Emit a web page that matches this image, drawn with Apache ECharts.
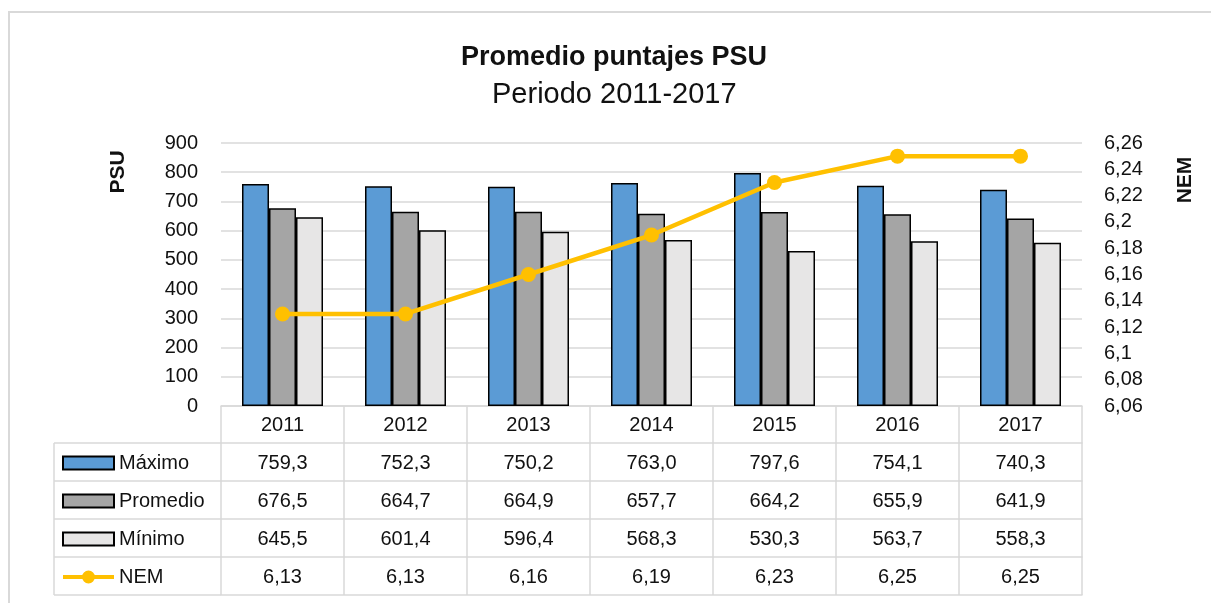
<!DOCTYPE html>
<html>
<head>
<meta charset="utf-8">
<script src="https://cdn.jsdelivr.net/npm/echarts@6/dist/echarts.min.js"></script>
<style>
  html, body { margin: 0; padding: 0; background: #fff; }
  #chart { width: 1211px; height: 603px; }
</style>
</head>
<body>
<div id="chart"></div>
<script>
const years = ['2011', '2012', '2013', '2014', '2015', '2016', '2017'];
const maximo = [759.3, 752.3, 750.2, 763.0, 797.6, 754.1, 740.3];
const promedio = [676.5, 664.7, 664.9, 657.7, 664.2, 655.9, 641.9];
const minimo = [645.5, 601.4, 596.4, 568.3, 530.3, 563.7, 558.3];
const nem = [6.13, 6.13, 6.16, 6.19, 6.23, 6.25, 6.25];

const FONT = 'Liberation Sans, Arial, sans-serif';
const TXT = '#111';
const GRID_C = '#d9d9d9';

// line with a dot, for the NEM legend key
const NEM_ICON = 'path://M0,4.5L19.6,4.5L19.6,8.5L0,8.5Z M31.4,4.5L51,4.5L51,8.5L31.4,8.5Z ' +
  'M19,6.5A6.5,6.5 0 1 1 32,6.5A6.5,6.5 0 1 1 19,6.5Z';

function comma(v, d) {
  return v.toFixed(d).replace('.', ',');
}

// one table row under the chart, drawn as an extra category axis
function rowAxis(offset, values, decimals) {
  return {
    type: 'category',
    data: years,
    position: 'bottom',
    offset: offset,
    axisLine: { show: true, lineStyle: { color: GRID_C, width: 1.5 } },
    axisTick: { show: values !== null, length: 38, interval: 0, lineStyle: { color: GRID_C, width: 1.5 } },
    axisLabel: {
      show: values !== null,
      interval: 0,
      margin: 10,
      fontFamily: FONT,
      fontSize: 20,
      color: TXT,
      formatter: (v, i) => values ? comma(values[i], decimals) : ''
    }
  };
}

const chart = echarts.init(document.getElementById('chart'));

const option = {
  animation: false,
  title: [
    {
      text: 'Promedio puntajes PSU',
      left: 456,
      top: 39,
      textStyle: { fontFamily: FONT, fontSize: 27, fontWeight: 'bold', color: TXT }
    },
    {
      text: 'Periodo 2011-2017',
      left: 487,
      top: 75,
      textStyle: { fontFamily: FONT, fontSize: 29, fontWeight: 'normal', color: TXT }
    }
  ],
  legend: {
    orient: 'vertical',
    left: 57,
    top: 448,
    itemWidth: 51,
    itemHeight: 13,
    itemGap: 18,
    selectedMode: false,
    textStyle: { fontFamily: FONT, fontSize: 20, color: TXT, lineHeight: 20 },
    data: [
      { name: 'Máximo', icon: 'rect' },
      { name: 'Promedio', icon: 'rect' },
      { name: 'Mínimo', icon: 'rect' },
      { name: 'NEM', icon: NEM_ICON, itemStyle: { borderWidth: 0 } }
    ]
  },
  grid: { left: 221, right: 129, top: 143, bottom: 197 },
  xAxis: [
    {
      type: 'category',
      data: years,
      position: 'bottom',
      axisLine: { show: true, lineStyle: { color: GRID_C, width: 1.5 } },
      axisTick: { show: true, length: 37, interval: 0, lineStyle: { color: GRID_C, width: 1.5 } },
      axisLabel: { interval: 0, margin: 9, fontFamily: FONT, fontSize: 20, color: TXT }
    },
    rowAxis(37, maximo, 1),
    rowAxis(75, promedio, 1),
    rowAxis(113, minimo, 1),
    rowAxis(151, nem, 2),
    rowAxis(189, null, 0)
  ],
  yAxis: [
    {
      type: 'value',
      min: 0,
      max: 900,
      interval: 100,
      axisLine: { show: false },
      axisTick: { show: false },
      splitLine: { lineStyle: { color: GRID_C, width: 1.5 } },
      axisLabel: { margin: 23, fontFamily: FONT, fontSize: 20, color: TXT }
    },
    {
      type: 'value',
      min: 6.06,
      max: 6.26,
      interval: 0.02,
      position: 'right',
      axisLine: { show: false },
      axisTick: { show: false },
      splitLine: { show: false },
      axisLabel: {
        margin: 22,
        fontFamily: FONT,
        fontSize: 20,
        color: TXT,
        formatter: v => String(parseFloat(v.toFixed(2))).replace('.', ',')
      }
    }
  ],
  graphic: [
    // chart frame
    { type: 'rect', shape: { x: 9, y: 12, width: 1400, height: 800 }, style: { fill: 'none', stroke: GRID_C, lineWidth: 2 }, silent: true },
    // legend column of the data table
    { type: 'line', shape: { x1: 54, y1: 443, x2: 54, y2: 595 }, style: { stroke: GRID_C, lineWidth: 1.5 } },
    { type: 'line', shape: { x1: 54, y1: 443, x2: 221, y2: 443 }, style: { stroke: GRID_C, lineWidth: 1.5 } },
    { type: 'line', shape: { x1: 54, y1: 481, x2: 221, y2: 481 }, style: { stroke: GRID_C, lineWidth: 1.5 } },
    { type: 'line', shape: { x1: 54, y1: 519, x2: 221, y2: 519 }, style: { stroke: GRID_C, lineWidth: 1.5 } },
    { type: 'line', shape: { x1: 54, y1: 557, x2: 221, y2: 557 }, style: { stroke: GRID_C, lineWidth: 1.5 } },
    { type: 'line', shape: { x1: 54, y1: 595, x2: 221, y2: 595 }, style: { stroke: GRID_C, lineWidth: 1.5 } },
    // axis titles
    {
      type: 'text', x: 118, y: 172, rotation: Math.PI / 2,
      style: { text: 'PSU', fontFamily: FONT, fontSize: 21, fontWeight: 'bold', fill: TXT, align: 'center', verticalAlign: 'middle' }
    },
    {
      type: 'text', x: 1185, y: 180, rotation: Math.PI / 2,
      style: { text: 'NEM', fontFamily: FONT, fontSize: 21, fontWeight: 'bold', fill: TXT, align: 'center', verticalAlign: 'middle' }
    }
  ],
  series: [
    {
      name: 'Máximo',
      type: 'bar',
      data: maximo,
      barWidth: 27,
      barGap: '0%',
      itemStyle: { color: '#5b9bd5', borderColor: '#000', borderWidth: 1.5 }
    },
    {
      name: 'Promedio',
      type: 'bar',
      data: promedio,
      barWidth: 27,
      barGap: '0%',
      itemStyle: { color: '#a5a5a5', borderColor: '#000', borderWidth: 1.5 }
    },
    {
      name: 'Mínimo',
      type: 'bar',
      data: minimo,
      barWidth: 27,
      barGap: '0%',
      itemStyle: { color: '#e7e6e6', borderColor: '#000', borderWidth: 1.5 }
    },
    {
      name: 'NEM',
      type: 'line',
      yAxisIndex: 1,
      data: nem,
      symbol: 'circle',
      symbolSize: 15,
      lineStyle: { color: '#ffc000', width: 4.5 },
      itemStyle: { color: '#ffc000' }
    }
  ]
};

chart.setOption(option);
</script>
</body>
</html>
